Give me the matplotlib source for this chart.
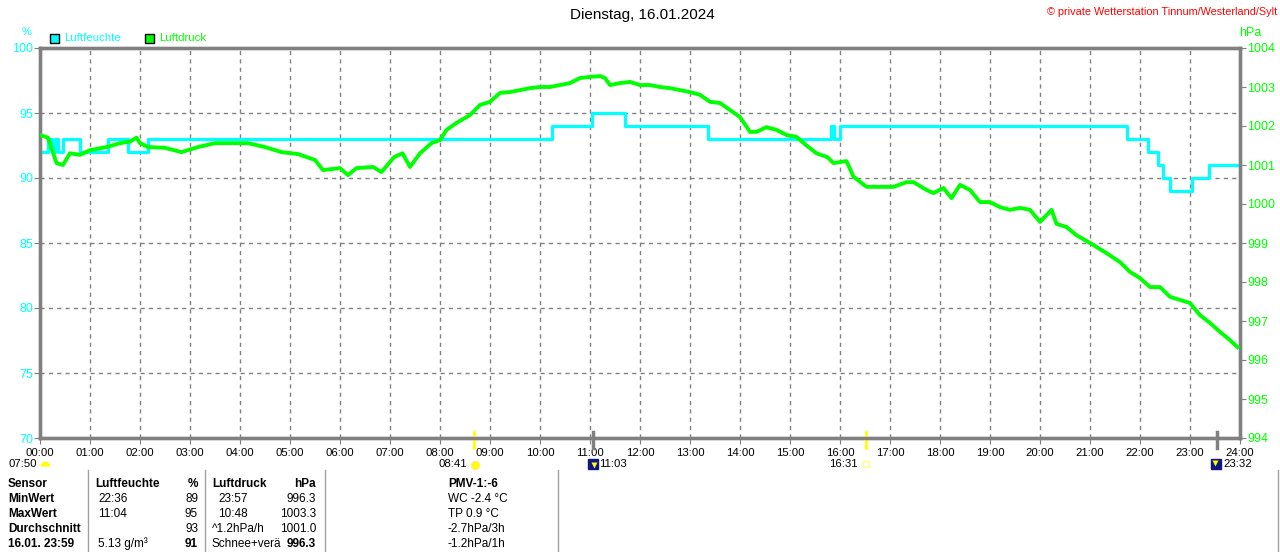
import numpy as np
import matplotlib
matplotlib.use('Agg')
import matplotlib.pyplot as plt
from matplotlib.lines import Line2D
from matplotlib.patches import Rectangle

plt.rcParams['font.family'] = ['Liberation Sans', 'DejaVu Sans']

CYAN = '#00ffff'
GREEN = '#00ff00'
GRAY = '#808080'

# humidity (%), step changes: hour -> value
hum_time = [0.0, 0.16, 0.24, 0.30, 0.36, 0.46, 0.80, 1.36, 1.76, 2.16, 10.24, 11.04,
            11.70, 13.36, 15.82, 15.88, 16.00, 21.74, 22.16, 22.36, 22.46, 22.60,
            23.04, 23.38, 24.0]
hum_val = [92, 93, 92, 93, 92, 93, 92, 93, 92, 93, 94, 95,
           94, 93, 94, 93, 94, 93, 92, 91, 90, 89,
           90, 91, 91]

# air pressure (hPa)
pres_time = [0.00, 0.16, 0.33, 0.46, 0.60, 0.80, 1.00, 1.33, 1.60, 1.80, 1.93, 2.00,
             2.16, 2.50, 2.83, 3.16, 3.50, 3.83, 4.16, 4.50, 4.83, 5.16, 5.50, 5.66,
             6.00, 6.16, 6.33, 6.66, 6.83, 7.08, 7.25, 7.40, 7.60, 7.83, 8.00, 8.13,
             8.33, 8.60, 8.80, 9.00, 9.20, 9.40, 9.60, 9.80, 10.00, 10.20, 10.40, 10.60,
             10.80, 11.00, 11.20, 11.30, 11.40, 11.60, 11.80, 12.00, 12.20, 12.40, 12.60,
             12.80, 13.00, 13.20, 13.40, 13.60, 13.80, 14.00, 14.20, 14.33, 14.53, 14.73,
             14.93, 15.13, 15.33, 15.53, 15.75, 15.87, 16.13, 16.27, 16.53, 16.80, 17.07,
             17.33, 17.47, 17.73, 17.87, 18.07, 18.23, 18.40, 18.60, 18.80, 19.00, 19.20,
             19.40, 19.60, 19.80, 20.00, 20.23, 20.33, 20.53, 20.73, 21.00, 21.33, 21.60,
             21.80, 22.00, 22.20, 22.40, 22.60, 22.80, 23.00, 23.20, 23.40, 23.60, 23.80,
             23.95]
pres_val = [1001.77, 1001.70, 1001.05, 1001.00, 1001.30, 1001.26, 1001.38, 1001.46,
            1001.56, 1001.60, 1001.70, 1001.56, 1001.46, 1001.44, 1001.33, 1001.46,
            1001.56, 1001.56, 1001.56, 1001.46, 1001.33, 1001.28, 1001.13, 1000.87,
            1000.92, 1000.74, 1000.92, 1000.95, 1000.82, 1001.20, 1001.30, 1000.95,
            1001.30, 1001.56, 1001.64, 1001.90, 1002.08, 1002.28, 1002.54, 1002.62,
            1002.85, 1002.87, 1002.92, 1002.97, 1003.00, 1003.00, 1003.05, 1003.10,
            1003.23, 1003.26, 1003.28, 1003.23, 1003.05, 1003.10, 1003.13, 1003.05,
            1003.05, 1003.00, 1002.97, 1002.92, 1002.87, 1002.80, 1002.62, 1002.59,
            1002.41, 1002.23, 1001.85, 1001.85, 1001.97, 1001.90, 1001.77, 1001.72,
            1001.50, 1001.30, 1001.20, 1001.05, 1001.10, 1000.70, 1000.44, 1000.44,
            1000.44, 1000.56, 1000.56, 1000.36, 1000.28, 1000.41, 1000.15, 1000.49,
            1000.36, 1000.05, 1000.05, 999.92, 999.85, 999.90, 999.85, 999.54, 999.85,
            999.49, 999.41, 999.20, 999.00, 998.74, 998.51, 998.26, 998.10, 997.87,
            997.87, 997.62, 997.54, 997.46, 997.15, 996.95, 996.72, 996.51, 996.33]

hour_labels = ['%02d:00' % h for h in range(25)]
hum_ticks = [70, 75, 80, 85, 90, 95, 100]
pres_ticks = list(range(994, 1005))

# sun / moon events (hour, label)
sunrise = (7 + 50 / 60, '07:50')
sun_noon = (8 + 41 / 60, '08:41')
moonrise = (11 + 3 / 60, '11:03')
sunset = (16 + 31 / 60, '16:31')
moonset = (23 + 32 / 60, '23:32')

table_rows = [
    ['Sensor', 'Luftfeuchte', '%', 'Luftdruck', 'hPa', 'PMV-1:-6'],
    ['MinWert', '22:36', '89', '23:57', '996.3', 'WC -2.4 °C'],
    ['MaxWert', '11:04', '95', '10:48', '1003.3', 'TP 0.9 °C'],
    ['Durchschnitt', '', '93', '^1.2hPa/h', '1001.0', '-2.7hPa/3h'],
    ['16.01. 23:59', '5.13 g/m³', '91', 'Schnee+verä', '996.3', '-1.2hPa/1h'],
]

W, H = 1280, 552


def fx(x):
    return x / W


def fy(y):
    return 1 - y / H


fig = plt.figure(figsize=(W / 100, H / 100), dpi=100)
ax = fig.add_axes([fx(40), fy(438), 1200 / W, 390 / H])
ax2 = ax.twinx()

ax.plot(hum_time, hum_val, color=CYAN, lw=2.3, drawstyle='steps-post', zorder=3)
ax2.plot(pres_time, pres_val, color=GREEN, lw=2.8, zorder=3)

ax.set_xlim(0, 24)
ax.set_ylim(70, 100)
ax2.set_ylim(994, 1004)
ax.set_xticks(range(25))
ax.set_xticklabels(hour_labels)
ax.set_yticks(hum_ticks)
ax2.set_yticks(pres_ticks)

ax.grid(True, color=GRAY, ls=(0, (3, 3)), lw=1)
for a in (ax, ax2):
    for s in a.spines.values():
        s.set_color(GRAY)
        s.set_linewidth(2.4)
ax.tick_params(axis='x', colors=GRAY, labelcolor='black', labelsize=8.2, length=4, pad=3)
ax.tick_params(axis='y', colors=GRAY, labelcolor=CYAN, labelsize=9, length=4, pad=1)
ax2.tick_params(axis='y', colors=GRAY, labelcolor=GREEN, labelsize=9, length=4, pad=1)

# event ticks on the x axis
trans = ax.get_xaxis_transform()
for t, c, lw in [(sun_noon[0], '#ffff00', 2), (sunset[0], '#ffff00', 2),
                 (moonrise[0], GRAY, 2.5), (moonset[0], GRAY, 2.5)]:
    ax.plot([t, t], [0.015, -0.026], color=c, lw=lw, transform=trans, clip_on=False, zorder=5)

# event labels under the time axis
fig.text(fx(37), fy(464), sunrise[1], ha='right', va='center', fontsize=8.2)
fig.add_artist(Line2D([fx(45)], [fy(466)], marker='o', fillstyle='top', ms=7,
                      color='#ffff00', mec='none', transform=fig.transFigure))
fig.text(fx(467), fy(464), sun_noon[1], ha='right', va='center', fontsize=8.2)
fig.add_artist(Line2D([fx(475)], [fy(465)], marker='o', ms=6, color='#ffff00',
                      mec='#ffee88', transform=fig.transFigure))
fig.add_artist(Line2D([fx(593)], [fy(464)], marker='s', ms=7, color='#101880',
                      mec='#101880', transform=fig.transFigure))
fig.add_artist(Line2D([fx(594)], [fy(465)], marker='v', ms=4, color='#ffff00',
                      mec='none', transform=fig.transFigure))
fig.text(fx(599), fy(464), moonrise[1], ha='left', va='center', fontsize=8.2)
fig.text(fx(858), fy(464), sunset[1], ha='right', va='center', fontsize=8.2)
fig.add_artist(Line2D([fx(866)], [fy(464)], marker='s', ms=4, mfc='none',
                      mec='#ffff80', transform=fig.transFigure))
fig.add_artist(Line2D([fx(1216)], [fy(464)], marker='s', ms=7, color='#101880',
                      mec='#101880', transform=fig.transFigure))
fig.add_artist(Line2D([fx(1215)], [fy(463)], marker='v', ms=4, color='#ffff00',
                      mec='none', transform=fig.transFigure))
fig.text(fx(1223), fy(464), moonset[1], ha='left', va='center', fontsize=8.2)

# header texts
fig.text(fx(642), fy(15), 'Dienstag, 16.01.2024', ha='center', va='center', fontsize=11)
fig.text(fx(1277), fy(12), '© private Wetterstation Tinnum/Westerland/Sylt',
         ha='right', va='center', fontsize=7.8, color='red')
fig.text(fx(27), fy(32), '%', ha='center', va='center', fontsize=8, color=CYAN)
fig.text(fx(1250), fy(33), 'hPa', ha='center', va='center', fontsize=9, color=GREEN)
for x0, col, name in [(50, CYAN, 'Luftfeuchte'), (145, GREEN, 'Luftdruck')]:
    fig.add_artist(Rectangle((fx(x0), fy(43)), 9 / W, 9 / H, facecolor=col,
                             edgecolor='black', lw=1, transform=fig.transFigure))
    fig.text(fx(x0 + 14), fy(38), name, ha='left', va='center', fontsize=8.2, color=col)

# summary table
row_y = [484, 499, 514, 529, 544]
fs = 8.5
for i, (row, y) in enumerate(zip(table_rows, row_y)):
    head = i == 0
    fig.text(fx(8), fy(y), row[0], ha='left', va='center', fontsize=fs, fontweight='bold')
    fig.text(fx(95 if head else 98), fy(y), row[1], ha='left', va='center', fontsize=fs,
             fontweight='bold' if head else 'normal')
    fig.text(fx(198), fy(y), row[2], ha='right', va='center', fontsize=fs,
             fontweight='bold' if head or i == 4 else 'normal')
    fig.text(fx(212 if head or i >= 3 else 218), fy(y), row[3], ha='left', va='center',
             fontsize=fs, fontweight='bold' if head else 'normal')
    fig.text(fx(316), fy(y), row[4], ha='right', va='center', fontsize=fs,
             fontweight='bold' if head or i == 4 else 'normal')
    fig.text(fx(448), fy(y), row[5], ha='left', va='center', fontsize=fs,
             fontweight='bold' if head else 'normal')

for x in [88, 205, 325, 558, 1278]:
    fig.add_artist(Line2D([fx(x), fx(x)], [fy(470), fy(552)], color='#a0a0a0', lw=1,
                          transform=fig.transFigure))

fig.savefig('out.png', dpi=100)
